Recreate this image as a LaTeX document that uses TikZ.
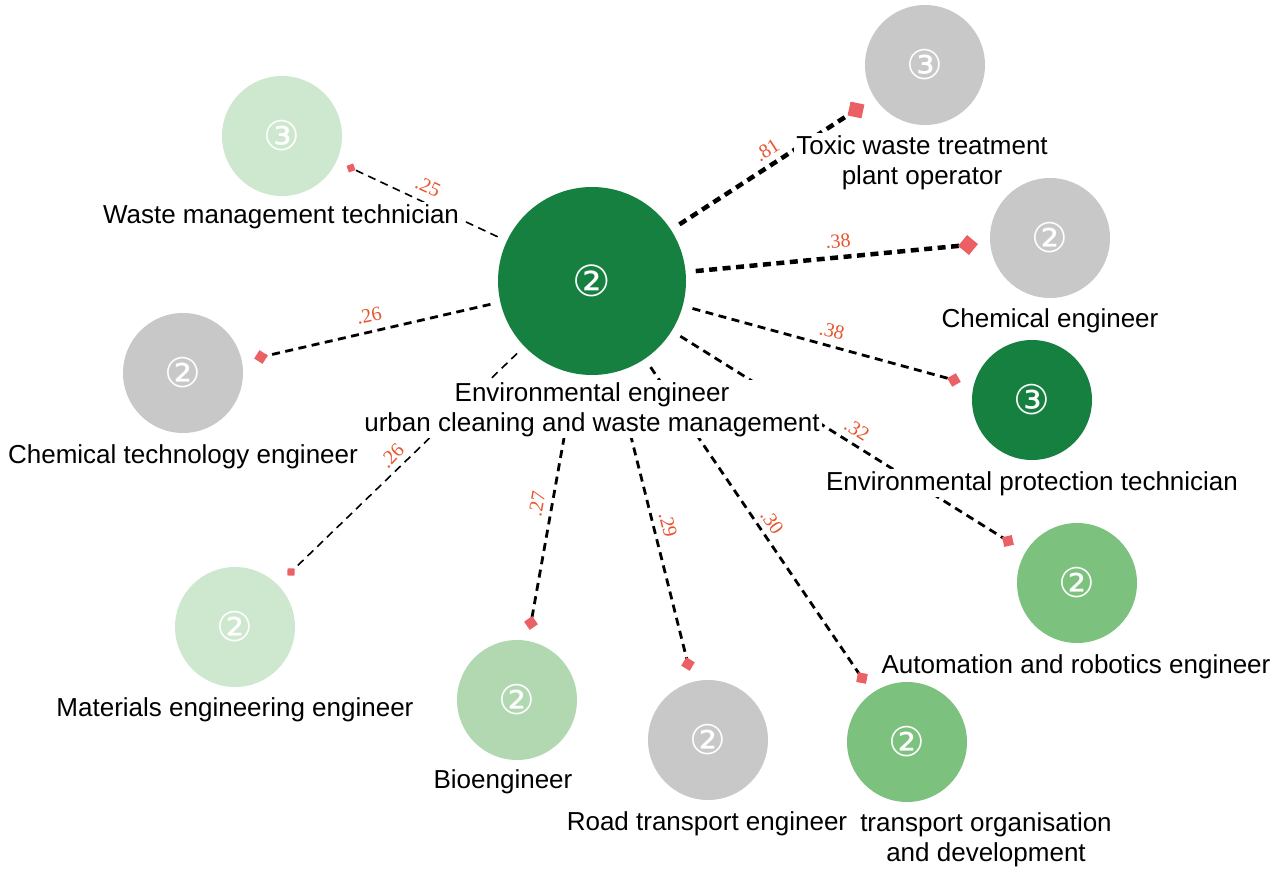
\documentclass[tikz,border=0pt]{standalone}
\usepackage{fontspec}
\setmainfont{Liberation Sans}
\newfontfamily\numfont{Liberation Serif}
\newfontfamily\circfont{DejaVu Sans}
\usetikzlibrary{arrows.meta,calc}
\pgfdeclarelayer{background}
\pgfsetlayers{background,main}
\definecolor{dkgreen}{RGB}{22,128,64}
\definecolor{greyc}{RGB}{200,200,200}
\definecolor{midgreen}{RGB}{124,193,126}
\definecolor{ltgreen}{RGB}{178,216,178}
\definecolor{vltgreen}{RGB}{206,232,207}
\definecolor{diacol}{RGB}{234,96,100}
\definecolor{numcol}{RGB}{232,84,46}
\begin{document}
\begin{tikzpicture}[x=1pt,y=-1pt,
  bub/.style={circle, minimum size=120pt, inner sep=0pt, text=white, font=\circfont\fontsize{41}{41}\selectfont},
  lab/.style={fill=white, inner sep=2pt, font=\fontsize{26}{30}\selectfont, align=center},
  num/.style={text=numcol, font=\numfont\fontsize{20}{20}\selectfont, inner sep=0pt},
  conn/.style={dash pattern=on 8pt off 5.5pt, shorten <=10pt},
  thickc/.style={conn, line width=4.5pt, -{Kite[length=20pt,width=20pt,inset=10pt,line width=0pt,color=diacol]}},
  medc/.style={conn, line width=2.8pt, -{Kite[length=14pt,width=14pt,inset=7pt,line width=0pt,color=diacol]}},
  thinc/.style={conn, line width=1.6pt, -{Kite[length=10pt,width=10pt,inset=5pt,line width=0pt,color=diacol]}}
]
\useasboundingbox (0,0) rectangle (1277,872);

% text labels (base anchor of a two-line node = baseline of its last line)
\node[lab, anchor=base] (ltox) at (922,184) {Toxic waste treatment\\plant operator};
\node[lab, anchor=base] (lchem) at (1050,327) {Chemical engineer};
\node[lab, anchor=base] (lenvp) at (1032,490) {Environmental protection technician};
\node[lab, anchor=base] (lauto) at (1076,673) {Automation and robotics engineer};
\node[lab, anchor=base] (ltrans) at (986,861) {transport organisation\\and development};
\node[lab, anchor=base] (lroad) at (707,830) {Road transport engineer};
\node[lab, anchor=base] (lbio) at (503,788) {Bioengineer};
\node[lab, anchor=base] (lmat) at (235,716) {Materials engineering engineer};
\node[lab, anchor=base] (lctech) at (183,463) {Chemical technology engineer};
\node[lab, anchor=base] (lwaste) at (281,223) {Waste management technician};
\node[lab, anchor=base] (lc) at (592,431) {Environmental engineer\\urban cleaning and waste management};

% circles
\node[bub, fill=dkgreen, minimum size=188pt, font=\circfont\fontsize{43}{43}\selectfont] (c) at (592,281) {②};
\node[bub, fill=greyc] (tox) at (925,65) {③};
\node[bub, fill=greyc] (chem) at (1050,238) {②};
\node[bub, fill=dkgreen] (envp) at (1032,400) {③};
\node[bub, fill=midgreen] (auto) at (1077,583) {②};
\node[bub, fill=midgreen] (trans) at (907,742) {②};
\node[bub, fill=greyc] (road) at (708,740) {②};
\node[bub, fill=ltgreen] (bio) at (517,700) {②};
\node[bub, fill=vltgreen] (mat) at (235,627) {②};
\node[bub, fill=greyc] (ctech) at (183,373) {②};
\node[bub, fill=vltgreen] (waste) at (282,136) {③};

% diamond positions
\coordinate (dtox) at (856,110);
\coordinate (dchem) at (968,245);
\coordinate (denvp) at (954,380);
\coordinate (dauto) at (1008,541);
\coordinate (dtrans) at (862,678);
\coordinate (droad) at (688,664);
\coordinate (dbio) at (531,623);
\coordinate (dmat) at (291,572);
\coordinate (dctech) at (261,357);
\coordinate (dwaste) at (351,168);

% connectors (behind the white label boxes)
\begin{pgfonlayer}{background}
\draw[thickc] (c) -- ($(dtox)!-10pt!(c)$);
\draw[thickc] (c) -- ($(dchem)!-10pt!(c)$);
\draw[medc] (c) -- ($(denvp)!-7pt!(c)$);
\draw[medc] (c) -- ($(dauto)!-7pt!(c)$);
\draw[medc] (c) -- ($(dtrans)!-7pt!(c)$);
\draw[medc] (c) -- ($(droad)!-7pt!(c)$);
\draw[medc] (c) -- ($(dbio)!-7pt!(c)$);
\draw[thinc] (c) -- ($(dmat)!-5pt!(c)$);
\draw[medc] (c) -- ($(dctech)!-7pt!(c)$);
\draw[thinc] (c) -- ($(dwaste)!-5pt!(c)$);
\end{pgfonlayer}

% weights
\node[num, rotate=33] (ntox) at (767,150) {.81};
\node[num, rotate=5] (nchem) at (838,241) {.38};
\node[num, rotate=-15] (nenvp) at (832,331) {.38};
\node[num, rotate=-32] (nauto) at (857,430) {.32};
\node[num, rotate=-56] (ntrans) at (772,522) {.30};
\node[num, rotate=-76] (nroad) at (668,525) {.29};
\node[num, rotate=80] (nbio) at (537,504) {.27};
\node[num, rotate=46] (nmat) at (392,456) {.26};
\node[num, rotate=12] (nctech) at (369,316) {.26};
\node[num, rotate=-25] (nwaste) at (428,187) {.25};
\end{tikzpicture}
\end{document}
